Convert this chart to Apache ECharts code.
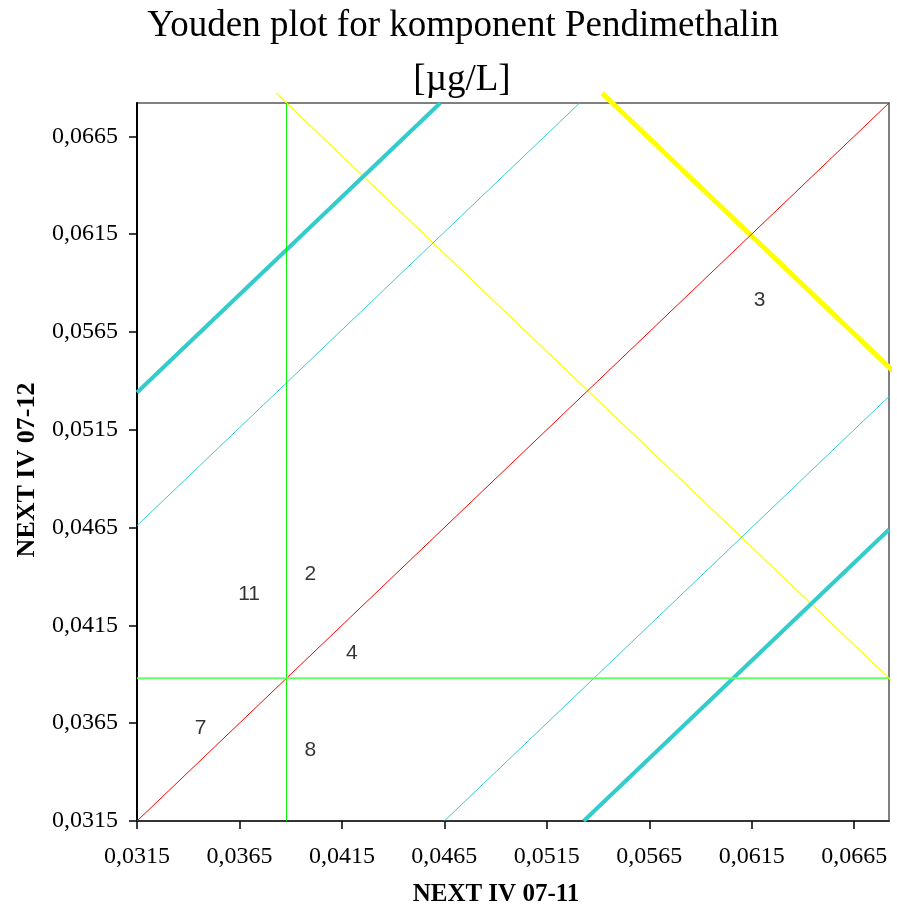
<!DOCTYPE html>
<html>
<head>
<meta charset="utf-8">
<script src="https://cdn.jsdelivr.net/npm/echarts@6/dist/echarts.min.js"></script>
<style>html,body{margin:0;padding:0;background:#fff}#chart{width:897px;height:912px}</style>
</head>
<body>
<div id="chart"></div>
<script>
// ---- data ----
const titleLine1 = 'Youden plot for komponent Pendimethalin';
const titleLine2 = '[µg/L]';
const xAxisName = 'NEXT IV 07-11';
const yAxisName = 'NEXT IV 07-12';

const axisMin = 0.0315;
const axisMax = 0.0682;
const tickValues = [0.0315, 0.0365, 0.0415, 0.0465, 0.0515, 0.0565, 0.0615, 0.0665];

const labCodes = ['2', '3', '4', '7', '8', '11'];
const labX = [0.03996, 0.06189, 0.04199, 0.03460, 0.03996, 0.03697];
const labY = [0.04411, 0.05814, 0.04007, 0.03623, 0.03512, 0.04308];

const medianX = 0.0388;
const medianY = 0.0388;

const diagonalLine = [[0.0315, 0.0315], [0.0682, 0.0682]];
const medianVertical = [[medianX, 0.0315], [medianX, 0.0682]];
const medianHorizontal = [[0.0315, medianY], [0.0682, medianY]];
const cyanThinUpper = [[0.0315, 0.0466], [0.0531, 0.0682]];
const cyanThickUpper = [[0.0315, 0.0534], [0.0463, 0.0682]];
const cyanThinLower = [[0.0465, 0.0315], [0.0682, 0.0532]];
const cyanThickLower = [[0.0533, 0.0315], [0.0682, 0.0464]];
const yellowThin = [[0.0383, 0.0687], [0.0686, 0.0384]];
const yellowThick = [[0.0542, 0.0687], [0.0686, 0.0543]];

// ---- chart ----
const serif = 'Liberation Serif';
const sans = 'Liberation Sans';
const fmt = v => v.toFixed(4).replace('.', ',');

function lineSeries(data, color, width, clip, z) {
  return {
    type: 'line', data: data, symbol: 'none', silent: true, clip: clip,
    lineStyle: { color: color, width: width }, z: z, animation: false
  };
}

const chart = echarts.init(document.getElementById('chart'), null, { renderer: 'canvas' });
chart.setOption({
  animation: false,
  backgroundColor: '#ffffff',
  graphic: [
    { type: 'text', x: 463, y: 26, style: { text: titleLine1, font: '37px "Liberation Serif"', fill: '#000', textAlign: 'center', textVerticalAlign: 'middle' } },
    { type: 'text', x: 462, y: 80, style: { text: titleLine2, font: '37px "Liberation Serif"', fill: '#000', textAlign: 'center', textVerticalAlign: 'middle' } },
    { type: 'text', x: 496, y: 895, style: { text: xAxisName, font: 'bold 25px "Liberation Serif"', fill: '#000', textAlign: 'center', textVerticalAlign: 'middle' } },
    { type: 'text', x: 27, y: 470, rotation: Math.PI / 2, style: { text: yAxisName, font: 'bold 26px "Liberation Serif"', fill: '#000', textAlign: 'center', textVerticalAlign: 'middle' } }
  ],
  grid: {
    left: 137, right: 8, top: 103, bottom: 91,
    show: true, borderColor: '#808080', borderWidth: 2,
    containLabel: false, outerBoundsMode: 'none'
  },
  xAxis: {
    type: 'value', min: axisMin, max: axisMax,
    axisLine: { show: true, onZero: false, lineStyle: { color: '#333', width: 2 } },
    axisTick: { show: true, length: 8, customValues: tickValues, lineStyle: { color: '#000', width: 1.5 } },
    axisLabel: { customValues: tickValues, formatter: fmt, margin: 24, fontFamily: serif, fontSize: 24, color: '#000' },
    splitLine: { show: false }
  },
  yAxis: {
    type: 'value', min: axisMin, max: axisMax,
    axisLine: { show: true, onZero: false, lineStyle: { color: '#000', width: 2 } },
    axisTick: { show: true, length: 8, customValues: tickValues, lineStyle: { color: '#000', width: 1.5 } },
    axisLabel: { customValues: tickValues, formatter: fmt, margin: 19, fontFamily: serif, fontSize: 24, color: '#000' },
    splitLine: { show: false }
  },
  series: [
    lineSeries(yellowThin, '#ffff00', 1.2, false, 2),
    lineSeries(yellowThick, '#ffff00', 5, false, 2),
    lineSeries(cyanThinUpper, '#33cccc', 1, true, 3),
    lineSeries(cyanThickUpper, '#33cccc', 4, true, 3),
    lineSeries(cyanThinLower, '#33cccc', 1, true, 3),
    lineSeries(cyanThickLower, '#33cccc', 4, true, 3),
    lineSeries(diagonalLine, '#ff0000', 1, true, 4),
    lineSeries(medianVertical, '#00ee00', 1, true, 4),
    lineSeries(medianHorizontal, '#66ff66', 2, true, 4),
    {
      type: 'scatter', z: 10, silent: true,
      symbolSize: 1,
      itemStyle: { color: 'rgba(0,0,0,0)' },
      data: labCodes.map((c, i) => ({ value: [labX[i], labY[i]], name: c })),
      label: { show: true, position: 'inside', formatter: p => p.name, fontFamily: sans, fontSize: 21, color: '#000', textBorderWidth: 0, textBorderColor: 'transparent' }
    }
  ]
});
</script>
</body>
</html>
